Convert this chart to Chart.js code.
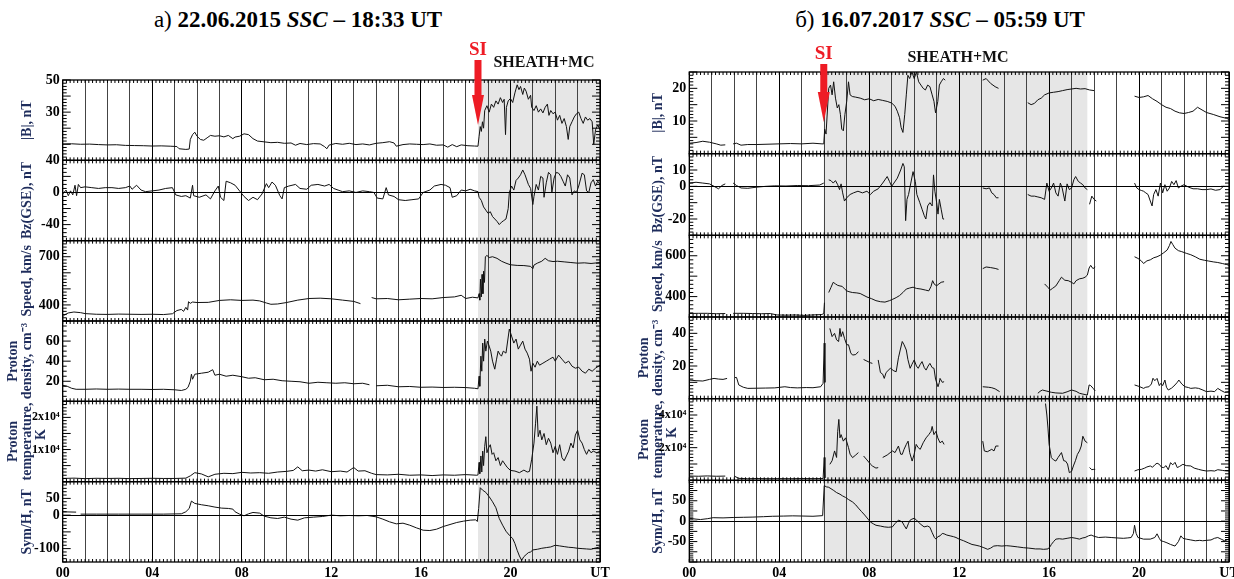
<!DOCTYPE html>
<html>
<head>
<meta charset="utf-8">
<script src="https://cdn.jsdelivr.net/npm/chart.js@4.4.1/dist/chart.umd.min.js"></script>
<style>
  body { margin: 0; background: #fff; }
  #wrap { position: relative; width: 1234px; height: 579px; overflow: hidden; }
  canvas { position: absolute; top: 0; }
  .title { position: absolute; top: 7px; transform: translateX(-50%); white-space: nowrap;
           font-family: "Liberation Serif", "Times New Roman", serif; font-size: 23px; color: #000; }
</style>
</head>
<body>
<div id="wrap">
  <div class="title" style="left:298px">а) <b>22.06.2015 <i>SSC</i> – 18:33 UT</b></div>
  <div class="title" style="left:940px">б) <b>16.07.2017 <i>SSC</i> – 05:59 UT</b></div>
  <canvas id="chartLeft" width="617" height="579" style="left:0"></canvas>
  <canvas id="chartRight" width="617" height="579" style="left:617px"></canvas>
</div>
<script>
const FONT = '"Liberation Serif", "Times New Roman", serif';

// подписи оси времени (каждые 4 часа)
const hourLabels = ['00', '04', '08', '12', '16', '20', 'UT'];
const axisTitles = [['', '|B|, nT'], ['', 'Bz(GSE), nT'], ['', 'Speed, km/s'],
                    ['Proton', 'density, cm⁻³'], ['Proton', 'temperature,', '    K'], ['', 'Sym/H, nT']];

// ---------- а) 22.06.2015 : [час UT, значение] ----------
const bL = [[0,10.2],[0.4,10.3],[0.8,10],[1.2,10.1],[1.6,9.8],[2,9.6],[2.4,9.7],[2.8,9.3],[3.2,9.2],[3.6,9.1],[4,8.9],[4.4,9],[4.8,8.8],[5.1,8.6],[5.2,7.2],[5.5,6.8],[5.65,7],[5.7,13],[5.8,16],[5.9,17.5],[6,15],[6.15,13],[6.3,12.5],[6.45,14],[6.6,15.5],[6.8,15],[7,15.3],[7.2,14.6],[7.4,15.5],[7.6,13.5],[7.7,14.5],[7.9,15],[8.1,16.5],[8.3,16],[8.5,13.5],[8.7,12],[9,11.5],[9.3,11],[9.6,11.2],[9.9,10.6],[10.2,10.8],[10.4,9.4],[10.6,10.5],[10.9,9.8],[11.2,10.4],[11.5,10.2],[11.7,8.5],[11.8,7.2],[11.9,9.5],[12.2,10.5],[12.5,10],[12.8,10.6],[13.1,9.8],[13.4,10.2],[13.7,9.6],[14,10.6],[14.3,11],[14.6,11.6],[14.8,10.8],[14.9,8.8],[15.2,9.8],[15.5,10.2],[15.8,10],[16.1,9.8],[16.4,10.2],[16.7,9.4],[17,9.6],[17.2,8.2],[17.4,9.8],[17.6,8.5],[17.8,9.6],[18.1,9.1],[18.4,8.9],[18.55,8.8],[18.6,15],[18.65,21],[18.7,18],[18.75,24],[18.8,20],[18.85,31],[18.95,34],[19.05,30],[19.15,35],[19.25,33],[19.35,37],[19.45,35],[19.55,39],[19.65,36],[19.72,38],[19.78,16],[19.82,33],[19.9,37],[20,38.5],[20.1,36],[20.2,42],[20.3,47],[20.38,44],[20.45,46],[20.55,41],[20.62,45],[20.7,43],[20.8,38],[20.9,40.5],[20.95,33],[21.05,31],[21.15,34],[21.25,30],[21.35,32],[21.45,29.5],[21.55,33],[21.65,35],[21.72,28],[21.8,31],[21.9,29],[22,30],[22.1,25],[22.2,28],[22.3,23],[22.4,26],[22.5,21],[22.58,13],[22.65,21],[22.75,24],[22.85,27],[22.95,29],[23.05,30],[23.15,26],[23.25,23],[23.35,27],[23.45,25],[23.55,26],[23.65,24],[23.72,10],[23.8,19],[23.9,22],[24,19]];
const bzL = [[0,-2],[0.15,3],[0.25,-4],[0.35,2],[0.45,-3],[0.55,9],[0.62,-4],[0.7,10],[0.8,6],[1,7],[1.3,6],[1.6,5],[1.9,6],[2.2,6],[2.5,5],[2.8,6],[3,8],[3.1,4],[3.3,9],[3.5,3],[3.7,1],[4,2],[4.3,3],[4.6,5],[4.9,6],[5.05,-3],[5.3,-5],[5.5,-4],[5.7,-7],[5.8,9],[5.85,-4],[6.1,-6],[6.4,-3],[6.6,-8],[6.8,2],[6.95,8],[7.05,-6],[7.2,-10],[7.3,14],[7.5,12],[7.7,9],[7.9,2],[8.1,-5],[8.3,-10],[8.5,-6],[8.7,-9],[8.9,-2],[9.1,11],[9.2,6],[9.35,13],[9.5,9],[9.7,-4],[9.8,-8],[9.9,6],[10.1,8],[10.4,10],[10.6,5],[10.9,4],[11.1,9],[11.4,10],[11.7,8],[11.9,10],[12.1,5],[12.3,3],[12.5,1],[12.8,2],[13.1,0],[13.4,2],[13.7,1],[13.9,0],[14.05,-7],[14.3,-8],[14.45,6],[14.55,-3],[14.8,-5],[15,-9],[15.3,-10],[15.6,-9],[15.9,-8],[16.1,0],[16.4,3],[16.6,8],[16.9,10],[17.1,9],[17.3,6],[17.4,-6],[17.6,-4],[17.8,3],[18,2],[18.2,4],[18.4,2],[18.55,1],[18.6,-6],[18.7,-10],[18.8,-18],[18.9,-22],[19,-26],[19.1,-24],[19.2,-30],[19.3,-33],[19.4,-36],[19.5,-40],[19.6,-37],[19.7,-35],[19.8,-33],[19.9,-20],[19.95,0],[20.05,8],[20.15,3],[20.25,15],[20.35,18],[20.45,22],[20.55,28],[20.65,22],[20.8,10],[20.9,5],[21,-15],[21.05,-5],[21.15,10],[21.25,3],[21.35,20],[21.45,18],[21.5,-6],[21.6,12],[21.7,25],[21.8,22],[21.85,0],[21.95,18],[22.05,25],[22.15,24],[22.25,20],[22.35,14],[22.45,8],[22.55,22],[22.65,18],[22.75,-3],[22.85,2],[22.95,0],[23.05,8],[23.2,24],[23.3,22],[23.4,2],[23.5,0],[23.6,12],[23.7,16],[23.8,8],[23.9,14],[24,10]];
const vL = [[0,327],[0.1,340],[0.25,350],[0.5,356],[0.8,352],[1,346],[1.5,342],[2,341],[2.5,343],[3,342],[3.5,341],[4,342],[4.5,340],[4.9,345],[5.1,365],[5.3,372],[5.4,360],[5.5,385],[5.58,368],[5.62,420],[5.7,410],[5.8,418],[6,415],[6.5,416],[7,428],[7.5,432],[8,428],[8.5,430],[8.8,425],[9.1,412],[9.3,404],[9.6,406],[10,415],[10.5,430],[11,440],[11.5,442],[12,438],[12.5,430],[13,422],[13.3,408],[13.5,null],[13.8,446],[14,438],[14.5,440],[15,432],[15.5,436],[16,440],[16.5,438],[17,446],[17.5,450],[17.8,460],[18,440],[18.3,448],[18.55,444],[18.6,470],[18.63,430],[18.66,560],[18.7,450],[18.73,590],[18.77,470],[18.8,610],[18.84,540],[18.88,700],[18.95,708],[19.05,695],[19.2,700],[19.4,690],[19.6,672],[19.8,660],[20,650],[20.3,646],[20.6,645],[20.9,640],[21,625],[21.05,648],[21.2,660],[21.4,672],[21.55,690],[21.7,675],[21.9,670],[22.1,672],[22.4,668],[22.7,664],[23,660],[23.3,662],[23.6,658],[24,664]];
const nL = [[0,16],[0.2,15],[0.4,13],[0.6,12],[1,12],[1.5,12.3],[2,12],[2.5,12.2],[3,12],[3.5,12],[4,11.8],[4.5,12],[5,11.5],[5.3,10.8],[5.5,12],[5.6,14],[5.7,20],[5.75,27],[5.8,22],[5.9,27],[6.2,28],[6.5,29],[6.7,31.5],[6.8,26],[7,27],[7.3,25],[7.6,26],[8,24.5],[8.3,23],[8.6,23.5],[9,21.5],[9.4,22],[9.8,20.5],[10.2,20],[10.6,19.5],[11,18],[11.4,19],[11.8,18.5],[12.2,18],[12.6,18.5],[13,17.5],[13.4,18],[13.7,16.5],[13.85,null],[14,15.5],[14.5,16],[15,14.5],[15.5,14.8],[16,14],[16.5,14.2],[17,13.8],[17.5,14],[18,13.7],[18.4,13],[18.55,12.5],[18.6,25],[18.63,15],[18.68,45],[18.72,30],[18.76,58],[18.8,40],[18.85,62],[18.9,50],[18.97,60],[19.05,55],[19.12,50],[19.2,40],[19.3,32],[19.38,42],[19.45,50],[19.52,47],[19.6,45],[19.68,50],[19.8,48],[19.95,72],[20.05,65],[20.15,58],[20.25,62],[20.35,52],[20.45,56],[20.55,60],[20.65,52],[20.75,48],[20.85,42],[20.92,30],[21,38],[21.1,34],[21.2,40],[21.3,36],[21.45,38],[21.6,40],[21.75,42],[21.9,44],[22,40],[22.15,46],[22.3,42],[22.45,38],[22.6,40],[22.75,35],[22.9,33],[23.05,34],[23.2,30],[23.35,28],[23.5,32],[23.65,30],[23.8,33],[24,36]];
const tL = [[0,1000],[0.5,1100],[1,950],[1.5,1050],[2,1000],[2.5,1050],[3,950],[3.5,1000],[4,1050],[4.5,1000],[5,1000],[5.5,1100],[5.7,1800],[5.9,2800],[6.2,2400],[6.5,1500],[6.8,2300],[7.2,2600],[7.6,2500],[8,2900],[8.4,2700],[8.8,2800],[9.2,2600],[9.6,3000],[10,3200],[10.3,3500],[10.5,4600],[10.7,3400],[11,3600],[11.3,3300],[11.6,3700],[12,3100],[12.4,3300],[12.7,3000],[13,4400],[13.2,3300],[13.5,3400],[13.8,2600],[14,2200],[14.5,2100],[15,2300],[15.5,2000],[16,2100],[16.5,1900],[17,2100],[17.5,2000],[18,2200],[18.5,2000],[18.55,2100],[18.6,6000],[18.63,2500],[18.68,8000],[18.72,3000],[18.76,9500],[18.8,5000],[18.85,11000],[18.9,14000],[18.95,9000],[19.02,10500],[19.1,11500],[19.18,8500],[19.25,9000],[19.35,6500],[19.45,7500],[19.55,5000],[19.65,6500],[19.75,5500],[19.85,4500],[20,3500],[20.2,3300],[20.4,2800],[20.6,3600],[20.75,3000],[20.85,3200],[20.95,7000],[21.05,12000],[21.12,18000],[21.18,23500],[21.24,14000],[21.32,16000],[21.4,13000],[21.5,15000],[21.6,11500],[21.7,13500],[21.8,12000],[21.9,9000],[22,11000],[22.1,8500],[22.2,11500],[22.3,7500],[22.4,6500],[22.5,8000],[22.6,9500],[22.7,12000],[22.8,10500],[22.9,14500],[23,16000],[23.1,13000],[23.2,12000],[23.3,10000],[23.4,8500],[23.5,10000],[23.6,9000],[23.7,9500],[23.85,9000],[24,9500]];
const symL = [[0,10],[0.6,9],[0.7,null],[0.8,3],[1.5,3],[2.5,3],[3.5,3],[4.5,3],[5.3,4],[5.5,10],[5.65,20],[5.75,42],[5.9,35],[6.2,31],[6.5,28],[6.8,24],[7.1,21],[7.4,20],[7.6,18],[7.7,10],[7.9,3],[8.1,-2],[8.3,4],[8.5,8],[8.8,6],[9,-3],[9.3,-8],[9.6,-10],[9.9,-6],[10.2,-12],[10.5,-15],[10.8,-8],[11.2,-6],[11.6,-4],[12,0],[12.4,-2],[12.8,-1],[13.2,-2],[13.6,-1],[14,-5],[14.3,-12],[14.6,-20],[14.9,-26],[15.2,-24],[15.5,-30],[15.8,-38],[16.1,-45],[16.4,-46],[16.7,-42],[17,-34],[17.3,-28],[17.6,-22],[17.9,-18],[18.2,-15],[18.45,-14],[18.52,-19],[18.58,20],[18.65,82],[18.75,75],[18.9,68],[19.05,55],[19.2,40],[19.35,22],[19.5,-10],[19.65,-30],[19.8,-48],[19.95,-60],[20.1,-70],[20.2,-85],[20.3,-105],[20.4,-122],[20.5,-135],[20.6,-124],[20.7,-118],[20.8,-112],[20.9,-110],[21,-104],[21.2,-102],[21.4,-99],[21.6,-97],[21.8,-95],[22,-90],[22.2,-92],[22.4,-94],[22.6,-96],[22.8,-97],[23,-99],[23.2,-100],[23.4,-101],[23.6,-102],[23.8,-98],[24,-95]];

const bTicksL = [30, 50], bzTicksL = [-40, 0, 40], vTicksL = [400, 700];
const nTicksL = [20, 40, 60], tTicksL = [10000, 20000], symTicksL = [-100, 0, 50];
const tLabelsL = ['1x10⁴', '2x10⁴'];

// ---------- б) 16.07.2017 ----------
const bR = [[0,3.2],[0.3,3.4],[0.6,3.8],[0.9,3.5],[1.2,3],[1.4,2.6],[1.6,2.7],[1.65,null],[1.95,3],[2.1,3.2],[2.3,2.6],[2.6,2.8],[3,2.8],[3.5,2.9],[4,3],[4.5,3.1],[5,3],[5.5,3.2],[5.9,3],[5.98,3],[6.02,7.5],[6.08,6],[6.2,20],[6.28,21],[6.35,18],[6.42,22],[6.5,17],[6.58,14],[6.65,15],[6.72,12],[6.78,7.5],[6.85,7],[6.92,12],[7,16],[7.08,22],[7.15,18],[7.25,17.5],[7.4,17.3],[7.6,17],[7.8,16.5],[8,16.8],[8.2,16.2],[8.4,16.6],[8.6,16.3],[8.8,16],[9,15.5],[9.15,14.5],[9.25,13],[9.35,11],[9.42,8],[9.5,6.5],[9.58,12],[9.65,18],[9.72,24],[9.8,23],[9.9,25],[10,23],[10.1,25],[10.2,22],[10.3,21],[10.4,20],[10.5,19.5],[10.6,21],[10.7,20.5],[10.8,18],[10.88,16],[10.95,12.5],[11.05,16],[11.12,21],[11.2,22],[11.3,23],[11.38,22.5],[11.4,null],[13.05,22.5],[13.2,23],[13.4,21.5],[13.6,20.5],[13.75,20],[13.8,null],[15.05,15.6],[15.2,15],[15.35,15.4],[15.5,16.5],[15.65,17],[15.8,18],[16,18.6],[16.2,18.8],[16.4,19],[16.6,19.3],[16.8,19.6],[17,19.8],[17.2,20],[17.4,19.8],[17.6,19.9],[17.8,19.5],[18,19.3],[18.1,null],[19.8,17.6],[20,17.2],[20.2,17.4],[20.4,17.8],[20.6,16.8],[20.8,16],[21,15],[21.2,14.2],[21.4,13.8],[21.6,13],[21.8,12.5],[22,12.3],[22.2,12.6],[22.4,13],[22.6,14.2],[22.8,13.4],[23,12.6],[23.3,12],[23.6,11.3],[23.9,10.8],[24,10.5]];
const bzR = [[0,2],[0.3,2.5],[0.6,2],[0.9,1.5],[1.1,0],[1.3,-1.5],[1.45,0.5],[1.6,1.5],[1.65,null],[1.95,2],[2.1,0.5],[2.3,-1],[2.6,-1.2],[3,-0.5],[3.4,0],[3.8,0.3],[4.3,0.2],[4.8,0.5],[5.3,0.4],[5.8,0.8],[5.98,2],[6.1,null],[6.2,4],[6.3,3.5],[6.4,2],[6.5,3.5],[6.6,1],[6.68,-2],[6.75,1.5],[6.82,-4],[6.9,-9],[7,-7],[7.15,-5],[7.3,-4],[7.5,-3],[7.7,-4],[7.9,-3],[8.05,-5],[8.2,-3],[8.4,-1.5],[8.6,2],[8.8,6],[8.9,3],[9,0],[9.1,2],[9.25,5],[9.4,10],[9.5,14],[9.56,12],[9.62,-21],[9.68,-8],[9.75,-5],[9.85,2],[9.95,9],[10.05,3],[10.12,-5],[10.25,-10],[10.35,-14],[10.45,-18],[10.52,-20],[10.6,-12],[10.7,-10],[10.8,-12],[10.86,7],[10.92,-3],[11,-10],[11.06,-17],[11.12,-8],[11.2,-14],[11.28,-20],[11.33,-20],[11.4,null],[13.05,-1],[13.2,-1.5],[13.35,-1],[13.45,-4],[13.55,-5],[13.65,-7],[13.75,-7],[13.8,null],[15.05,-5],[15.2,-6],[15.35,-6],[15.5,-6.5],[15.65,-7],[15.8,-8],[15.9,2],[16,-3],[16.1,-1],[16.2,2],[16.3,-4],[16.4,-6],[16.5,2],[16.58,-1],[16.7,-9],[16.8,1.5],[16.9,-2],[17,-1],[17.1,4],[17.18,6],[17.3,3],[17.4,2],[17.5,1],[17.6,-1],[17.7,-2],[17.75,null],[17.8,-11],[17.9,-6],[18,-8],[18.1,-9],[18.15,null],[19.8,2],[19.9,-1],[20,-2],[20.1,-2.5],[20.2,-3],[20.3,-4],[20.4,-5],[20.5,-9],[20.58,-12],[20.65,-5],[20.75,-2],[20.85,-6],[20.95,2],[21.05,-4],[21.15,1],[21.25,-3],[21.35,-1],[21.45,3],[21.55,1],[21.65,3.5],[21.75,-1],[21.85,0],[22,1],[22.2,-0.5],[22.4,-1.5],[22.6,-1.5],[22.8,-2],[23,-2],[23.2,-1.6],[23.4,-2.4],[23.6,-2],[23.75,0]];
const vR = [[0,317],[0.4,318],[0.8,318],[1.2,316],[1.6,317],[1.65,null],[1.95,318],[2.4,318],[2.8,317],[3.2,316],[3.6,317],[3.9,310],[4.3,309],[4.7,310],[5.1,308],[5.5,310],[5.9,312],[5.98,318],[6.01,370],[6.05,null],[6.2,420],[6.3,445],[6.4,470],[6.5,462],[6.6,455],[6.7,452],[6.8,450],[6.9,438],[7,428],[7.1,424],[7.25,420],[7.45,418],[7.6,415],[7.9,398],[8.1,390],[8.3,380],[8.5,375],[8.7,373],[8.9,380],[9.05,387],[9.2,395],[9.35,405],[9.5,420],[9.65,437],[9.8,442],[9.95,446],[10.1,440],[10.3,437],[10.5,432],[10.65,428],[10.75,450],[10.82,478],[10.9,460],[11,453],[11.1,462],[11.2,470],[11.33,473],[11.4,null],[13.05,537],[13.2,545],[13.4,542],[13.6,538],[13.75,533],[13.8,null],[15.8,462],[15.95,445],[16.05,432],[16.15,440],[16.3,452],[16.45,478],[16.55,495],[16.7,480],[16.85,478],[17,470],[17.1,462],[17.2,478],[17.35,487],[17.5,490],[17.6,495],[17.7,505],[17.78,540],[17.85,553],[17.95,537],[18.05,545],[18.1,null],[19.8,595],[19.95,587],[20.1,575],[20.2,562],[20.35,575],[20.5,580],[20.65,590],[20.8,595],[20.95,603],[21.1,615],[21.25,628],[21.35,650],[21.42,670],[21.5,655],[21.6,637],[21.75,625],[21.9,620],[22.1,612],[22.3,605],[22.5,595],[22.7,583],[22.9,578],[23.1,574],[23.3,570],[23.5,567],[23.7,562],[23.9,557],[24,553]];
const nR = [[0,11.4],[0.3,11],[0.6,10.8],[0.9,11.8],[1.1,12.4],[1.3,12],[1.5,11.8],[1.68,12.4],[1.7,null],[2.03,12.9],[2.1,13],[2.2,8.4],[2.4,7],[2.6,6.3],[3,6.4],[3.4,6.5],[3.8,6.6],[4.25,7.3],[4.5,6.8],[4.8,6.6],[5.2,6.8],[5.5,6.7],[5.84,7.3],[5.95,9.4],[6,34],[6.03,10],[6.08,null],[6.25,43],[6.35,38],[6.46,40],[6.55,36],[6.64,35],[6.7,43],[6.75,38],[6.82,41],[6.9,37],[7,33],[7.08,33],[7.18,28],[7.26,26.7],[7.4,27],[7.52,28.8],[7.6,null],[7.75,24],[7.9,23],[8.05,22],[8.14,21.6],[8.25,null],[8.4,23.7],[8.5,16],[8.6,15],[8.67,12.4],[8.75,16],[8.94,18.6],[9.1,17],[9.2,16.5],[9.3,25],[9.38,29.8],[9.47,35],[9.55,33],[9.65,29.8],[9.72,24],[9.82,18.6],[9.9,21],[10,23.7],[10.1,20],[10.18,18.6],[10.27,21],[10.35,22.7],[10.45,19],[10.53,17.5],[10.62,20],[10.7,21.6],[10.8,19],[10.88,18.6],[10.95,12],[11.06,7.3],[11.12,10],[11.15,12.4],[11.25,10],[11.33,10.4],[11.4,null],[13.05,7.3],[13.3,7],[13.45,6.7],[13.6,6],[13.8,4.3],[13.85,null],[15.5,3.3],[15.6,4.5],[15.7,5.3],[15.9,4.6],[16.1,3.9],[16.3,3.5],[16.6,3.3],[16.8,4.2],[17,5.3],[17.2,4.5],[17.35,3.3],[17.5,2.8],[17.7,2.2],[17.78,8.4],[17.85,8],[17.96,6.3],[18.05,4.7],[18.1,null],[19.8,8.4],[20,7.5],[20.2,6.3],[20.3,7],[20.44,7.3],[20.55,9],[20.62,12.5],[20.7,11],[20.8,12.4],[20.9,8],[20.97,9.4],[21.05,8],[21.15,11.4],[21.22,7],[21.3,5.3],[21.45,6.5],[21.6,8.4],[21.7,10],[21.77,11.4],[21.9,9],[22.04,7.3],[22.2,6.8],[22.3,6.3],[22.5,6.6],[22.65,6.3],[22.8,5.5],[23,4.3],[23.2,4.6],[23.36,4.3],[23.5,6.3],[23.65,5],[23.8,3.9],[24,4.3]];
const tR = [[0,2650],[0.4,2500],[0.8,2700],[1.2,2500],[1.6,2600],[1.7,null],[2,2600],[2.2,1200],[2.6,1000],[3,1100],[3.5,1000],[4,1050],[4.5,1000],[5,1100],[5.5,1050],[5.95,1100],[6,14000],[6.03,1500],[6.1,null],[6.25,9800],[6.35,12000],[6.46,18000],[6.55,14000],[6.6,30000],[6.65,37300],[6.7,26000],[6.75,28000],[6.85,24000],[6.95,26000],[7.08,20000],[7.15,16000],[7.26,13900],[7.4,15500],[7.52,17000],[7.6,null],[7.75,14900],[7.9,12500],[8.05,10000],[8.14,8800],[8.3,7500],[8.4,7800],[8.5,null],[8.6,14000],[8.8,15500],[9.03,18000],[9.15,17000],[9.3,21000],[9.4,16000],[9.47,15900],[9.55,19000],[9.65,22000],[9.73,24000],[9.8,17000],[9.91,11800],[10,16000],[10.09,22000],[10.18,20000],[10.27,19000],[10.4,23000],[10.53,26000],[10.65,28000],[10.75,30000],[10.8,33000],[10.88,28000],[10.97,30000],[11.05,26000],[11.15,23000],[11.25,24000],[11.33,22000],[11.4,null],[13.05,24000],[13.12,18000],[13.25,17500],[13.45,19000],[13.55,18000],[13.63,21000],[13.75,21000],[13.8,null],[15.84,47000],[15.9,40000],[15.95,32000],[16,22000],[16.1,13900],[16.2,12500],[16.3,11800],[16.4,14000],[16.55,17000],[16.65,12000],[16.73,11800],[16.82,10000],[16.9,4700],[17,5500],[17.08,8800],[17.17,12000],[17.26,15900],[17.35,18000],[17.43,21000],[17.5,27000],[17.6,24000],[17.7,23000],[17.75,null],[17.8,7800],[17.9,6500],[17.96,6700],[18.05,6700],[18.1,null],[19.8,5700],[19.95,6500],[20.1,6700],[20.25,7500],[20.35,8200],[20.5,8800],[20.6,8000],[20.7,9500],[20.8,10500],[20.9,9800],[21,8000],[21.1,7800],[21.2,9000],[21.3,6500],[21.4,10800],[21.5,9500],[21.6,11000],[21.7,7800],[21.8,8500],[21.95,9800],[22.1,9000],[22.3,8800],[22.45,7500],[22.65,6700],[22.8,6200],[23,5700],[23.2,5900],[23.36,5700],[23.5,6500],[23.7,6100],[23.85,5800],[24,5700]];
const symR = [[0,7],[0.3,5],[0.5,4],[0.8,6],[1.06,8.5],[1.5,8],[1.95,9],[2.4,9.5],[2.83,10],[3.3,11],[3.7,12],[4.2,12.5],[4.6,13],[5.1,12.5],[5.5,12],[5.93,13.5],[6,87],[6.1,84],[6.2,83],[6.4,76],[6.55,70],[6.7,66],[6.81,62],[6.95,58],[7.08,53],[7.26,47],[7.4,40],[7.52,32],[7.65,24],[7.8,15],[7.95,5],[8.05,-2],[8.2,-7],[8.3,-10],[8.5,-12],[8.67,-14],[8.85,-15],[9.03,-14],[9.15,-6],[9.3,2.5],[9.4,0],[9.47,-2],[9.55,-10],[9.65,-19],[9.75,-5],[9.82,2.5],[9.9,5],[10,7],[10.1,3],[10.18,-2],[10.3,-8],[10.44,-14],[10.6,-12],[10.7,-15],[10.8,-28],[10.9,-40],[10.97,-44],[11.05,-38],[11.15,-36],[11.25,-30],[11.33,-31],[11.45,-34],[11.6,-36],[11.75,-38],[11.86,-40],[12,-44],[12.2,-48],[12.4,-53],[12.57,-57],[12.75,-59],[12.9,-61],[13.1,-65],[13.27,-69],[13.4,-66],[13.54,-61],[13.7,-60],[13.9,-61],[14.1,-60],[14.3,-61],[14.6,-63],[14.87,-65],[15.1,-66],[15.4,-68],[15.6,-68],[15.75,-69],[15.95,-68],[16.05,-62],[16.1,-57],[16.2,-50],[16.3,-44],[16.45,-43],[16.6,-44],[16.8,-42],[17,-40],[17.2,-42],[17.35,-44],[17.5,-41],[17.6,-40],[17.75,-36],[17.87,-34],[18,-37],[18.2,-40],[18.5,-39],[18.76,-40],[19,-41],[19.3,-42],[19.5,-41],[19.65,-40],[19.75,-30],[19.8,-10],[19.87,-30],[19.95,-40],[20.2,-44],[20.5,-44],[20.7,-40],[20.8,-31],[20.9,-42],[20.97,-48],[21.1,-50],[21.24,-53],[21.4,-57],[21.6,-61],[21.75,-50],[21.86,-36],[21.95,-42],[22.1,-44],[22.3,-46],[22.5,-48],[22.7,-47],[22.83,-48],[23,-47],[23.2,-46],[23.35,-42],[23.5,-40],[23.65,-44],[23.8,-48],[24,-44]];

const bTicksR = [10, 20], bzTicksR = [-20, 0, 10], vTicksR = [400, 600];
const nTicksR = [20, 40], tTicksR = [20000, 40000], symTicksR = [-50, 0, 50];
const tLabelsR = ['2x10⁴', '4x10⁴'];

function pts(arr) {
    return arr.map(([x, y]) => ({ x, y }));
}

const decorCfg = {}; // настройки оформления по id канваса

// рамки панелей, засечки, нулевые линии, стрелка SI
const panelDecor = {
    id: 'panelDecor',
    beforeDraw(chart) {
        const o = decorCfg[chart.canvas.id];
        const { ctx, chartArea: a } = chart;
        const x = chart.scales.x;
        const x0 = x.getPixelForValue(o.shadeFrom), x1 = x.getPixelForValue(o.shadeTo);
        ctx.save();
        ctx.fillStyle = '#e6e6e6';
        ctx.fillRect(x0, a.top, x1 - x0, a.bottom - a.top);
        ctx.restore();
    },
    afterDatasetsDraw(chart) {
        const o = decorCfg[chart.canvas.id];
        const { ctx, chartArea: a } = chart;
        const x = chart.scales.x;
        const line = (x1, y1, x2, y2) => { ctx.beginPath(); ctx.moveTo(x1, y1); ctx.lineTo(x2, y2); ctx.stroke(); };
        ctx.save();
        ctx.strokeStyle = '#000';
        ctx.lineWidth = 1;
        o.zeroAxes.forEach(id => {
            const y = Math.round(chart.scales[id].getPixelForValue(0)) + 0.5;
            line(a.left, y, a.right, y);
        });
        o.axes.forEach(ax => {
            const s = chart.scales[ax.id];
            ctx.lineWidth = 1.3;
            ctx.strokeRect(a.left, s.top, a.right - a.left, s.bottom - s.top);
            ctx.lineWidth = 1;
            const n = Math.round((ax.max - ax.min) / ax.minor);
            for (let k = 0; k <= n; k++) {
                const v = ax.min + k * ax.minor;
                const r = v / ax.major;
                const len = Math.abs(r - Math.round(r)) < 1e-6 ? 8 : 4;
                const y = s.getPixelForValue(v);
                line(a.left, y, a.left + len, y);
                line(a.right, y, a.right - len, y);
            }
            for (let k = 0; k <= 144; k++) {
                const px = x.getPixelForValue(k / 6);
                line(px, s.top, px, s.top + 3);
                line(px, s.bottom, px, s.bottom - 3);
            }
        });
        // стрелка SI
        const ax = x.getPixelForValue(o.ssc);
        ctx.fillStyle = '#ee1c25';
        ctx.fillRect(ax - 3.5, o.arrowTop, 7, o.headTop - o.arrowTop);
        ctx.beginPath();
        ctx.moveTo(ax - 6, o.headTop);
        ctx.lineTo(ax + 6, o.headTop);
        ctx.lineTo(ax, o.arrowTip);
        ctx.closePath();
        ctx.fill();
        ctx.textAlign = 'center';
        ctx.textBaseline = 'middle';
        ctx.font = 'bold 19px ' + FONT;
        ctx.fillText('SI', ax, o.siY);
        ctx.fillStyle = '#111';
        ctx.font = 'bold 16px ' + FONT;
        ctx.fillText('SHEATH+MC', x.getPixelForValue(o.labelHour), o.labelY);
        ctx.restore();
    }
};

function makePanel(canvasId, p) {
    decorCfg[canvasId] = Object.assign({ axes: p.axes }, p.decor);
    const scales = {
        x: {
            type: 'linear', min: 0, max: 24, position: 'bottom',
            afterFit: s => { s.height = 17; s.paddingLeft = 0; s.paddingRight = 0; },
            grid: { color: c => (c.tick && c.tick.value % 4 === 0) ? '#000' : '#444', lineWidth: 1, drawTicks: false },
            border: { display: false },
            ticks: {
                stepSize: 1, autoSkip: false, maxRotation: 0, padding: 3, color: '#000',
                font: { family: FONT, size: 14, weight: 'bold' },
                callback: v => v % 4 === 0 ? hourLabels[v / 4] : ''
            }
        }
    };
    p.axes.forEach((a, i) => {
        scales[a.id] = {
            type: 'linear', position: 'left', stack: 'panel', stackWeight: 1, weight: 10 - i,
            min: a.min, max: a.max, bounds: 'data',
            afterBuildTicks: s => { s.ticks = a.ticks.map(v => ({ value: v })); },
            afterFit: s => { s.width = p.axisWidth; s.paddingTop = 0; s.paddingBottom = 0; },
            grid: { display: false, drawTicks: false },
            border: { display: false },
            ticks: {
                autoSkip: false, padding: 3, color: '#000',
                font: { family: FONT, size: a.labels ? 12 : 14, weight: 'bold' },
                callback: (v, idx) => a.labels ? a.labels[idx] : String(v)
            },
            title: {
                display: true, text: axisTitles[i], color: '#1f2d5c', padding: 0,
                font: { family: FONT, size: 14, weight: 'bold', lineHeight: 1.0 }
            }
        };
    });

    new Chart(document.getElementById(canvasId), {
        type: 'line',
        data: {
            datasets: p.series.map((arr, i) => ({
                data: pts(arr),
                yAxisID: p.axes[i].id,
                borderColor: '#111',
                borderWidth: 1,
                pointRadius: 0,
                tension: 0,
                spanGaps: false,
                fill: false
            }))
        },
        options: {
            responsive: false,
            animation: false,
            devicePixelRatio: 1,
            events: [],
            layout: { padding: { left: p.padLeft, top: p.padTop, right: p.padRight, bottom: 0 } },
            scales,
            plugins: { legend: { display: false }, tooltip: { enabled: false } }
        },
        plugins: [panelDecor]
    });
}

makePanel('chartLeft', {
    padLeft: 6, padTop: 80, padRight: 17, axisWidth: 56.7,
    series: [bL, bzL, vL, nL, tL, symL],
    axes: [
        { id: 'b', min: 0, max: 50, ticks: bTicksL, major: 10, minor: 2 },
        { id: 'bz', min: -60, max: 40, ticks: bzTicksL, major: 20, minor: 5 },
        { id: 'v', min: 300, max: 800, ticks: vTicksL, major: 100, minor: 20 },
        { id: 'n', min: 0, max: 80, ticks: nTicksL, major: 20, minor: 5 },
        { id: 't', min: 0, max: 25000, ticks: tTicksL, labels: tLabelsL, major: 5000, minor: 1000 },
        { id: 'sym', min: -140, max: 100, ticks: symTicksL, major: 50, minor: 10 }
    ],
    decor: {
        shadeFrom: 18.55, shadeTo: 24, ssc: 18.55, zeroAxes: ['bz', 'sym'],
        siY: 50, arrowTop: 60, headTop: 95, arrowTip: 125, labelHour: 21.5, labelY: 63
    }
});

makePanel('chartRight', {
    padLeft: 20, padTop: 72, padRight: 5, axisWidth: 52.3,
    series: [bR, bzR, vR, nR, tR, symR],
    axes: [
        { id: 'b', min: 0, max: 25, ticks: bTicksR, major: 5, minor: 1 },
        { id: 'bz', min: -30, max: 20, ticks: bzTicksR, major: 10, minor: 2 },
        { id: 'v', min: 300, max: 700, ticks: vTicksR, major: 100, minor: 20 },
        { id: 'n', min: 0, max: 50, ticks: nTicksR, major: 10, minor: 2 },
        { id: 't', min: 0, max: 50000, ticks: tTicksR, labels: tLabelsR, major: 10000, minor: 2000 },
        { id: 'sym', min: -100, max: 100, ticks: symTicksR, major: 25, minor: 5 }
    ],
    decor: {
        shadeFrom: 5.98, shadeTo: 17.7, ssc: 5.98, zeroAxes: ['bz', 'sym'],
        siY: 54, arrowTop: 64, headTop: 92, arrowTip: 122, labelHour: 11.95, labelY: 58
    }
});
</script>
</body>
</html>
